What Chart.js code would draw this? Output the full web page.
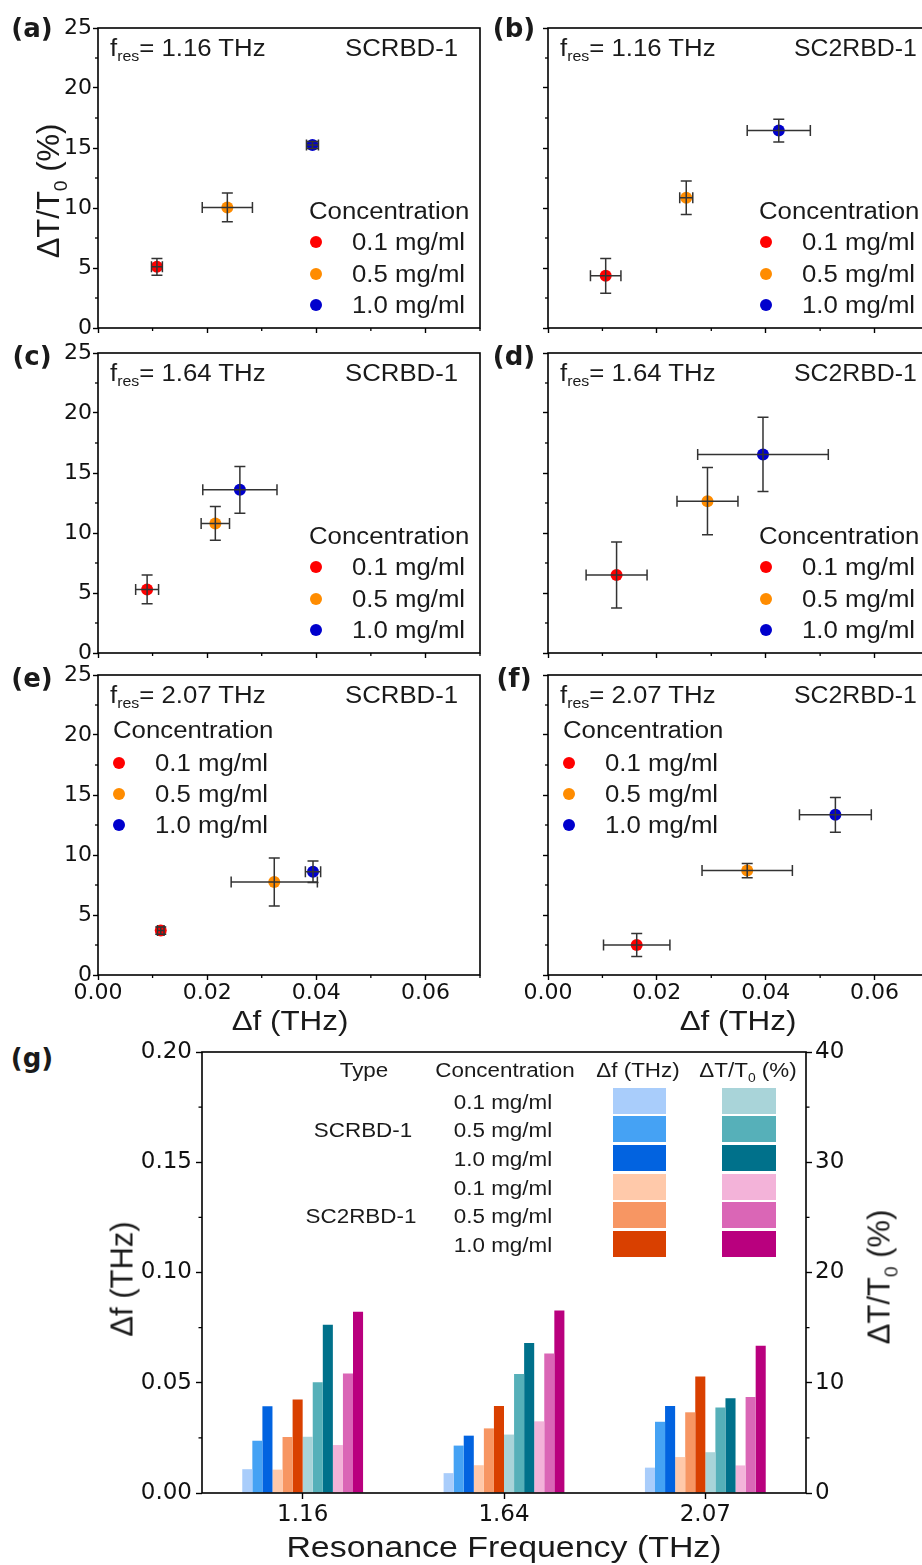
<!DOCTYPE html>
<html>
<head>
<meta charset="utf-8">
<script src="https://cdn.jsdelivr.net/npm/chart.js@4.4.1/dist/chart.umd.min.js"></script>
<style>
html, body { margin: 0; padding: 0; background: #fff; overflow: hidden; }
#page { position: relative; width: 922px; height: 1565px; overflow: hidden; }
canvas { position: absolute; }
.lbl { position: absolute; font-family: 'Liberation Sans', Arial, sans-serif; color: #1a1a1a; white-space: nowrap; line-height: 1; z-index: 5; }
.lbl sub { font-size: 0.62em; vertical-align: -0.42em; line-height: 0; }
.dot { position: absolute; width: 12px; height: 12px; border-radius: 50%; z-index: 5; }
.sw { position: absolute; z-index: 5; }
</style>
</head>
<body>
<div id="page"></div>
<script>
// Data
const freqLabels = ['1.16', '1.64', '2.07'];
const concLabels = ['0.1 mg/ml', '0.5 mg/ml', '1.0 mg/ml'];
const concColors = ['#ff0000', '#ff8c00', '#0000cd'];

// rows: resonance frequency (1.16, 1.64, 2.07 THz), cols: concentration
const dfSCRBD     = [[0.0108, 0.0237, 0.0393], [0.0090, 0.0215, 0.0260], [0.0115, 0.0323, 0.0394]];
const dfErrSCRBD  = [[0.0010, 0.0046, 0.0011], [0.0021, 0.0026, 0.0068], [0.0006, 0.0079, 0.0014]];
const dtSCRBD     = [[5.1, 10.05, 15.25], [5.3, 10.8, 13.6], [3.7, 7.75, 8.6]];
const dtErrSCRBD  = [[0.7, 1.2, 0.3], [1.2, 1.4, 1.95], [0.3, 2.0, 0.9]];

const dfSC2RBD    = [[0.0106, 0.0254, 0.0424], [0.0126, 0.0293, 0.0395], [0.0163, 0.0366, 0.0528]];
const dfErrSC2RBD = [[0.0028, 0.0012, 0.0058], [0.0056, 0.0056, 0.0120], [0.0061, 0.0083, 0.0066]];
const dtSC2RBD    = [[4.35, 10.85, 16.45], [6.5, 12.65, 16.55], [2.5, 8.7, 13.35]];
const dtErrSC2RBD = [[1.45, 1.4, 0.95], [2.75, 2.8, 3.1], [0.95, 0.6, 1.45]];

// bar colours (g)
const dfColorsSC  = ['#a9cdfb', '#45a2f4', '#0263e0'];
const dfColorsSC2 = ['#ffc9aa', '#f79663', '#d94000'];
const dtColorsSC  = ['#a9d4d9', '#56b0b9', '#00718b'];
const dtColorsSC2 = ['#f3b3d9', '#da66b6', '#b9007e'];

Chart.defaults.font.family = "'DejaVu Sans', sans-serif";
Chart.defaults.color = '#111';

const page = document.getElementById('page');

function isMajor(v, step) {
    return Math.abs(v / step - Math.round(v / step)) < 1e-6;
}

// Frame round the plot area + short minor ticks
const frameTicks = {
    id: 'frameTicks',
    afterDraw(chart, args, opts) {
        const {ctx, chartArea: a} = chart;
        ctx.save();
        ctx.strokeStyle = '#000';
        ctx.lineWidth = 1.6;
        ctx.strokeRect(a.left, a.top, a.right - a.left, a.bottom - a.top);
        ctx.lineWidth = 1.3;
        (opts.minor || []).forEach(m => {
            const s = chart.scales[m.axis];
            s.ticks.forEach(t => {
                if (isMajor(t.value, m.major)) return;
                const p = s.getPixelForValue(t.value);
                ctx.beginPath();
                if (s.isHorizontal()) {
                    ctx.moveTo(p, a.bottom); ctx.lineTo(p, a.bottom + m.len);
                } else if (s.position === 'left') {
                    ctx.moveTo(a.left, p); ctx.lineTo(a.left - m.len, p);
                } else {
                    ctx.moveTo(a.right, p); ctx.lineTo(a.right + m.len, p);
                }
                ctx.stroke();
            });
        });
        ctx.restore();
    }
};

// Error bars drawn over the markers
const errorBars = {
    id: 'errorBars',
    afterDatasetsDraw(chart) {
        const {ctx, scales: {x, y}} = chart;
        const cap = 5.5;
        ctx.save();
        ctx.strokeStyle = '#333';
        ctx.lineWidth = 1.5;
        chart.data.datasets.forEach(ds => {
            ds.data.forEach(p => {
                const cx = x.getPixelForValue(p.x), cy = y.getPixelForValue(p.y);
                const x0 = x.getPixelForValue(p.x - p.xErr), x1 = x.getPixelForValue(p.x + p.xErr);
                const y0 = y.getPixelForValue(p.y - p.yErr), y1 = y.getPixelForValue(p.y + p.yErr);
                ctx.beginPath();
                ctx.moveTo(x0, cy); ctx.lineTo(x1, cy);
                ctx.moveTo(x0, cy - cap); ctx.lineTo(x0, cy + cap);
                ctx.moveTo(x1, cy - cap); ctx.lineTo(x1, cy + cap);
                ctx.moveTo(cx, y0); ctx.lineTo(cx, y1);
                ctx.moveTo(cx - cap, y0); ctx.lineTo(cx + cap, y0);
                ctx.moveTo(cx - cap, y1); ctx.lineTo(cx + cap, y1);
                ctx.stroke();
            });
        });
        ctx.restore();
    }
};

// Text helper (HTML labels)
function addText(html, x, y, o = {}) {
    const d = document.createElement('div');
    d.className = 'lbl';
    d.innerHTML = html;
    d.style.fontSize = (o.size || 23) + 'px';
    if (o.bold) d.style.fontWeight = 'bold';
    if (o.family) d.style.fontFamily = o.family;
    d.style.left = x + 'px';
    d.style.top = y + 'px';
    const sx = o.sx || 1;
    let tf;
    if (o.rotate) {
        tf = `translate(-50%, -50%) rotate(${o.rotate}deg)`;
        d.style.transformOrigin = 'center center';
    } else if (o.align === 'center') {
        tf = 'translate(-50%, -50%)';
        d.style.transformOrigin = 'center center';
    } else if (o.align === 'right') {
        tf = 'translate(-100%, -50%)';
        d.style.transformOrigin = 'right center';
    } else {
        tf = 'translate(0, -50%)';
        d.style.transformOrigin = 'left center';
    }
    if (sx !== 1) tf += ` scaleX(${sx})`;
    d.style.transform = tf;
    page.appendChild(d);
}

function addDot(color, x, y) {
    const d = document.createElement('div');
    d.className = 'dot';
    d.style.background = color;
    d.style.left = (x - 6) + 'px';
    d.style.top = (y - 6) + 'px';
    page.appendChild(d);
}

function addSwatch(color, x, y, w, h) {
    const d = document.createElement('div');
    d.className = 'sw';
    d.style.background = color;
    d.style.left = x + 'px';
    d.style.top = y + 'px';
    d.style.width = w + 'px';
    d.style.height = h + 'px';
    page.appendChild(d);
}

// Scatter panels (a)-(f)
const rowTops = [28, 353, 675];
const colGeo = [
    {left: 0, width: 490, yW: 98, padR: 10, chartLeft: 98},
    {left: 480, width: 470, yW: 68, padR: 21, chartLeft: 548}
];
const panels = [
    {tag: '(a)', row: 0, col: 0, type: 'SCRBD-1'},
    {tag: '(b)', row: 0, col: 1, type: 'SC2RBD-1'},
    {tag: '(c)', row: 1, col: 0, type: 'SCRBD-1'},
    {tag: '(d)', row: 1, col: 1, type: 'SC2RBD-1'},
    {tag: '(e)', row: 2, col: 0, type: 'SCRBD-1'},
    {tag: '(f)', row: 2, col: 1, type: 'SC2RBD-1'}
];

function renderScatterPanel(p) {
    const g = colGeo[p.col];
    const top = rowTops[p.row];
    const sc = p.type === 'SCRBD-1';
    const df = (sc ? dfSCRBD : dfSC2RBD)[p.row];
    const dfE = (sc ? dfErrSCRBD : dfErrSC2RBD)[p.row];
    const dt = (sc ? dtSCRBD : dtSC2RBD)[p.row];
    const dtE = (sc ? dtErrSCRBD : dtErrSC2RBD)[p.row];

    const canvas = document.createElement('canvas');
    canvas.width = g.width;
    canvas.height = 360;
    canvas.style.left = g.left + 'px';
    canvas.style.top = (top - 20) + 'px';
    page.appendChild(canvas);

    const datasets = concLabels.map((c, i) => ({
        label: c,
        data: [{x: df[i], y: dt[i], xErr: dfE[i], yErr: dtE[i]}],
        backgroundColor: concColors[i],
        borderColor: concColors[i],
        pointRadius: 6,
        pointBorderWidth: 0
    }));

    const tickGrid = major => ({
        drawOnChartArea: false,
        drawTicks: true,
        tickLength: 5,
        tickWidth: 1.4,
        tickColor: ctx => isMajor(ctx.tick.value, major) ? '#000' : 'rgba(0,0,0,0)'
    });

    new Chart(canvas, {
        type: 'scatter',
        data: {datasets},
        options: {
            responsive: false,
            animation: false,
            devicePixelRatio: 1,
            layout: {padding: {top: 20, right: g.padR, left: 0, bottom: 0}},
            plugins: {
                legend: {display: false},
                tooltip: {enabled: false},
                frameTicks: {minor: [{axis: 'x', major: 0.02, len: 3}, {axis: 'y', major: 5, len: 3}]}
            },
            scales: {
                x: {
                    type: 'linear', min: 0, max: 0.07,
                    border: {display: false},
                    grid: tickGrid(0.02),
                    ticks: {
                        stepSize: 0.01, autoSkip: false, maxRotation: 0, padding: 0, maxTicksLimit: 20,
                        font: {size: 22},
                        callback: v => (p.row === 2 && isMajor(v, 0.02)) ? v.toFixed(2) : ''
                    },
                    afterFit: s => { s.height = 40; }
                },
                y: {
                    min: 0, max: 25,
                    border: {display: false},
                    grid: tickGrid(5),
                    ticks: {
                        stepSize: 2.5, autoSkip: false, padding: 1, maxTicksLimit: 20,
                        font: {size: 22},
                        callback: v => (p.col === 0 && isMajor(v, 5)) ? String(Math.round(v)) : ''
                    },
                    afterFit: s => { s.width = g.yW; }
                }
            }
        },
        plugins: [frameTicks, errorBars]
    });

    // in-panel text
    const L = g.chartLeft;
    addText('f<sub>res</sub>= ' + freqLabels[p.row] + ' THz', L + 12, top + 20, {sx: 1.12});
    addText(p.type, sc ? L + 247 : L + 246, top + 20, {sx: sc ? 1.12 : 1.08});
    addText(p.tag, p.col === 0 ? 32 : 514, top + (p.row === 0 ? 0 : 3), {align: 'center', size: 26, bold: true, family: "'DejaVu Sans', sans-serif"});

    // legend
    if (p.row < 2) {
        addText('Concentration', L + 211, top + 183, {sx: 1.12});
        concLabels.forEach((c, i) => {
            const yy = top + 214 + i * 31.5;
            addDot(concColors[i], L + 218, yy);
            addText(c, L + 254, yy, {sx: 1.12});
        });
    } else {
        addText('Concentration', L + 15, top + 55, {sx: 1.12});
        concLabels.forEach((c, i) => {
            const yy = top + 88 + i * 31;
            addDot(concColors[i], L + 21, yy);
            addText(c, L + 57, yy, {sx: 1.12});
        });
    }
}

panels.forEach(renderScatterPanel);

addText('ΔT/T<sub>0</sub> (%)', 48, 191, {rotate: -90, size: 31});
addText('Δf (THz)', 290, 1021, {align: 'center', size: 28, sx: 1.12});
addText('Δf (THz)', 738, 1021, {align: 'center', size: 28, sx: 1.12});

// Panel (g): grouped bars on two y axes
function renderBarPanel() {
    const canvas = document.createElement('canvas');
    canvas.width = 800;
    canvas.height = 508;
    canvas.style.left = '100px';
    canvas.style.top = '1030px';
    page.appendChild(canvas);

    const mk = (rows, colors, axis, name) => concLabels.map((c, i) => ({
        label: name + ' ' + c,
        data: rows.map(r => r[i]),
        backgroundColor: colors[i],
        borderColor: colors[i],
        borderWidth: 0,
        yAxisID: axis
    }));

    const datasets = [
        ...mk(dfSCRBD, dfColorsSC, 'y', 'Δf SCRBD-1'),
        ...mk(dfSC2RBD, dfColorsSC2, 'y', 'Δf SC2RBD-1'),
        ...mk(dtSCRBD, dtColorsSC, 'y2', 'ΔT/T0 SCRBD-1'),
        ...mk(dtSC2RBD, dtColorsSC2, 'y2', 'ΔT/T0 SC2RBD-1')
    ];

    const tickGrid = major => ({
        drawOnChartArea: false,
        drawTicks: true,
        tickLength: 6,
        tickWidth: 1.4,
        tickColor: ctx => isMajor(ctx.tick.value, major) ? '#000' : 'rgba(0,0,0,0)'
    });

    new Chart(canvas, {
        type: 'bar',
        data: {labels: freqLabels, datasets},
        options: {
            responsive: false,
            animation: false,
            devicePixelRatio: 1,
            categoryPercentage: 0.6,
            barPercentage: 1.0,
            layout: {padding: {top: 22, right: 0, left: 0, bottom: 0}},
            plugins: {
                legend: {display: false},
                tooltip: {enabled: false},
                frameTicks: {minor: [{axis: 'y', major: 0.05, len: 3.5}, {axis: 'y2', major: 10, len: 3.5}]}
            },
            scales: {
                x: {
                    offset: true,
                    border: {display: false},
                    grid: {offset: false, drawOnChartArea: false, tickLength: 6, tickWidth: 1.4, tickColor: '#000'},
                    ticks: {font: {size: 23}, padding: 2, maxRotation: 0},
                    afterFit: s => { s.height = 45; }
                },
                y: {
                    position: 'left', min: 0, max: 0.2,
                    border: {display: false},
                    grid: tickGrid(0.05),
                    ticks: {
                        stepSize: 0.025, autoSkip: false, padding: 4, maxTicksLimit: 20,
                        font: {size: 23},
                        callback: v => isMajor(v, 0.05) ? v.toFixed(2) : ''
                    },
                    afterFit: s => { s.width = 102; }
                },
                y2: {
                    position: 'right', min: 0, max: 40,
                    border: {display: false},
                    grid: tickGrid(10),
                    ticks: {
                        stepSize: 5, autoSkip: false, padding: 3, maxTicksLimit: 20,
                        font: {size: 23},
                        callback: v => isMajor(v, 10) ? String(Math.round(v)) : ''
                    },
                    afterFit: s => { s.width = 94; }
                }
            }
        },
        plugins: [frameTicks]
    });
}

renderBarPanel();

addText('(g)', 32, 1058, {align: 'center', size: 26, bold: true, family: "'DejaVu Sans', sans-serif"});
addText('Δf (THz)', 122, 1279, {rotate: -90, size: 31});
addText('ΔT/T<sub>0</sub> (%)', 879, 1277, {rotate: -90, size: 31});
addText('Resonance Frequency (THz)', 504, 1547, {align: 'center', size: 30, sx: 1.13});

// legend table inside (g)
const tableRowsY = [1102, 1130, 1159, 1188, 1216, 1245];
addText('Type', 364, 1070, {align: 'center', size: 20, sx: 1.12});
addText('Concentration', 505, 1070, {align: 'center', size: 20, sx: 1.12});
addText('Δf (THz)', 638, 1070, {align: 'center', size: 20, sx: 1.12});
addText('ΔT/T<sub>0</sub> (%)', 748, 1070, {align: 'center', size: 20, sx: 1.12});
addText('SCRBD-1', 363, tableRowsY[1], {align: 'center', size: 20, sx: 1.12});
addText('SC2RBD-1', 361, tableRowsY[4], {align: 'center', size: 20, sx: 1.12});
const dfSwatch = [...dfColorsSC, ...dfColorsSC2];
const dtSwatch = [...dtColorsSC, ...dtColorsSC2];
tableRowsY.forEach((yy, i) => {
    addText(concLabels[i % 3], 503, yy, {align: 'center', size: 20, sx: 1.12});
    addSwatch(dfSwatch[i], 613, yy - 14, 53, 26);
    addSwatch(dtSwatch[i], 722, yy - 14, 54, 26);
});
</script>
</body>
</html>
